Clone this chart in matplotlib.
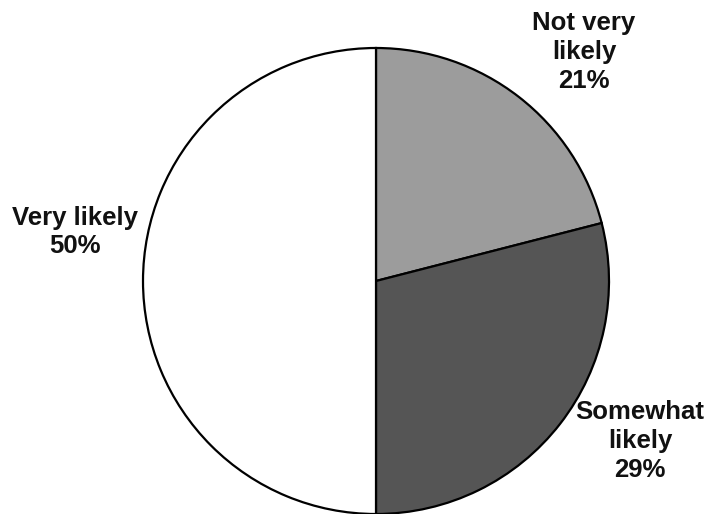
import matplotlib.pyplot as plt

labels = ['Not very\nlikely\n21%', 'Somewhat\nlikely\n29%', 'Very likely\n50%']
shares = [21, 29, 50]
colors = ['#9c9c9c', '#555555', '#ffffff']
# label anchor points (pixel coords, y measured from bottom)
label_xy = [(584, 462), (640, 73), (75, 282)]

plt.rcParams['font.family'] = ['Liberation Sans', 'DejaVu Sans']

fig = plt.figure(figsize=(7.14, 5.14), dpi=100)
ax = fig.add_axes([0, 0, 1, 1])

ax.pie(shares, colors=colors, startangle=90, counterclock=False,
       center=(376, 233), radius=233,
       wedgeprops=dict(edgecolor='black', linewidth=1.6))
ax.set_xlim(0, 714)
ax.set_ylim(0, 514)
ax.set_aspect('equal')
ax.axis('off')

for text, (x, y) in zip(labels, label_xy):
    ax.text(x, y, text, ha='center', va='center', fontsize=18.5,
            fontweight='bold', linespacing=1.25, color='#111111')

fig.savefig('out.png', dpi=100)
